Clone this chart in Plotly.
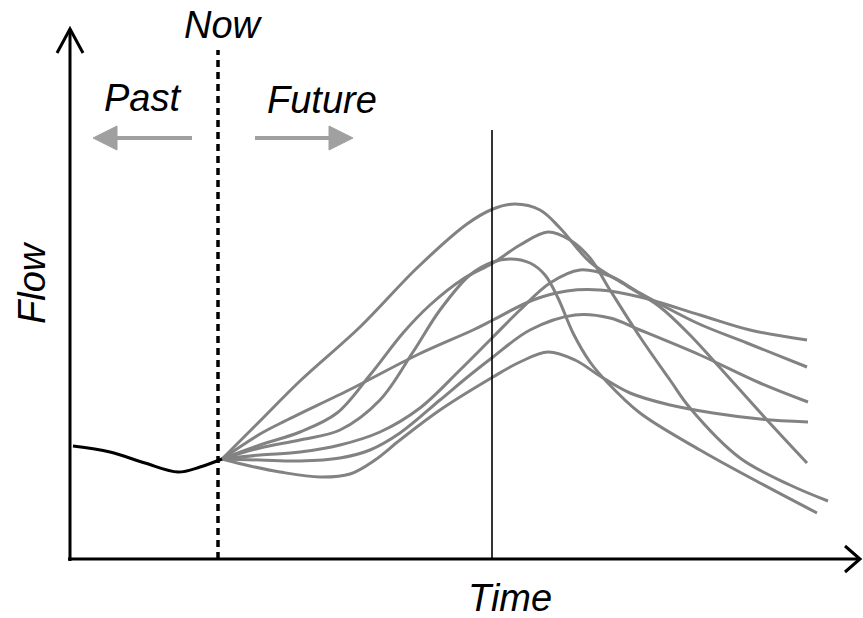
import plotly.graph_objects as go

# ---- data (time, flow) read from the schematic ----
past_time = [5, 42, 77, 110, 132, 154]
past_flow = [109, 103, 92, 83, 88, 96]

f1_time = [154, 192, 232, 292, 349, 399, 425, 447, 472, 492, 522, 559, 592, 622, 645, 699, 739]
f1_flow = [96, 134, 174, 228, 287, 331, 346, 351, 345, 327, 293, 269, 248, 220, 195, 135, 92]

f2_time = [154, 192, 232, 269, 302, 335, 362, 395, 425, 452, 480, 502, 522, 542, 572, 602, 622, 672, 722, 760]
f2_flow = [96, 110, 123, 142, 180, 222, 250, 276, 292, 310, 323, 315, 297, 265, 218, 175, 147, 97, 70, 54]

f3_time = [154, 192, 232, 272, 312, 345, 372, 402, 425, 442, 462, 477, 490, 505, 522, 539, 572, 632, 692, 749]
f3_flow = [96, 107, 115, 125, 155, 203, 245, 280, 293, 296, 292, 280, 257, 222, 193, 173, 142, 105, 72, 42]

f4_time = [154, 192, 232, 272, 312, 352, 392, 425, 452, 482, 512, 542, 572, 629, 679, 739]
f4_flow = [96, 100, 103, 110, 123, 147, 185, 218, 245, 272, 285, 279, 262, 232, 212, 188]

f5_time = [154, 192, 219, 285, 349, 405, 425, 465, 499, 532, 572, 632, 682, 739]
f5_flow = [96, 121, 135, 167, 200, 225, 235, 255, 264, 265, 258, 240, 225, 215]

f6_time = [154, 192, 232, 272, 302, 332, 372, 402, 425, 462, 507, 542, 572, 632, 692, 740]
f6_flow = [96, 95, 94, 97, 105, 122, 155, 180, 198, 225, 240, 237, 225, 200, 172, 153]

f7_time = [154, 182, 212, 252, 282, 307, 332, 372, 425, 452, 480, 507, 532, 562, 602, 645, 692, 740]
f7_flow = [96, 89, 83, 78, 81, 95, 115, 145, 178, 193, 203, 195, 179, 162, 150, 142, 136, 133]

forecasts = [(f1_time, f1_flow), (f2_time, f2_flow), (f3_time, f3_flow), (f4_time, f4_flow),
             (f5_time, f5_flow), (f6_time, f6_flow), (f7_time, f7_flow)]

labels = {"now": "Now", "past": "Past", "future": "Future", "x": "Time", "y": "Flow"}

W, H = 863, 618
GRAY = "#828282"
ARROW_GRAY = "#a0a0a0"
FONT = "Liberation Sans, Arial, sans-serif"


def px(x):
    return x / W


def py(y):
    return 1 - y / H


fig = go.Figure()

for t, q in forecasts:
    fig.add_trace(go.Scatter(x=t, y=q, mode="lines",
                             line=dict(color=GRAY, width=3, shape="spline", smoothing=1.0),
                             hoverinfo="skip", showlegend=False))

fig.add_trace(go.Scatter(x=past_time, y=past_flow, mode="lines",
                         line=dict(color="black", width=3, shape="spline", smoothing=1.0),
                         hoverinfo="skip", showlegend=False))

shapes = []
# axes
shapes.append(dict(type="line", xref="paper", yref="paper", x0=px(70), y0=py(561), x1=px(70), y1=py(29),
                   line=dict(color="black", width=3)))
shapes.append(dict(type="path", xref="paper", yref="paper",
                   path=f"M {px(57)},{py(53)} L {px(70)},{py(29)} L {px(83)},{py(53)}",
                   line=dict(color="black", width=3)))
shapes.append(dict(type="line", xref="paper", yref="paper", x0=px(68), y0=py(559), x1=px(860), y1=py(559),
                   line=dict(color="black", width=3)))
shapes.append(dict(type="path", xref="paper", yref="paper",
                   path=f"M {px(845)},{py(546)} L {px(860)},{py(559)} L {px(845)},{py(572)}",
                   line=dict(color="black", width=3)))
# "now" dotted line
shapes.append(dict(type="line", xref="paper", yref="paper", x0=px(218), y0=py(559), x1=px(218), y1=py(50),
                   line=dict(color="black", width=3.5, dash="7px,5px")))
# thin vertical line
shapes.append(dict(type="line", xref="paper", yref="paper", x0=px(492), y0=py(559), x1=px(492), y1=py(130),
                   line=dict(color="black", width=1.6)))
# gray arrows
shapes.append(dict(type="line", xref="paper", yref="paper", x0=px(192), y0=py(138), x1=px(112), y1=py(138),
                   line=dict(color=ARROW_GRAY, width=4)))
shapes.append(dict(type="path", xref="paper", yref="paper",
                   path=f"M {px(93)},{py(138)} L {px(117)},{py(126)} L {px(117)},{py(150)} Z",
                   fillcolor=ARROW_GRAY, line=dict(color=ARROW_GRAY, width=1)))
shapes.append(dict(type="line", xref="paper", yref="paper", x0=px(255), y0=py(138), x1=px(335), y1=py(138),
                   line=dict(color=ARROW_GRAY, width=4)))
shapes.append(dict(type="path", xref="paper", yref="paper",
                   path=f"M {px(353)},{py(138)} L {px(329)},{py(126)} L {px(329)},{py(150)} Z",
                   fillcolor=ARROW_GRAY, line=dict(color=ARROW_GRAY, width=1)))

tfont = dict(family=FONT, size=38, color="black", style="italic")
annotations = [
    dict(text=labels["now"], x=px(223), y=py(25), xref="paper", yref="paper", showarrow=False,
         xanchor="center", yanchor="middle", font=tfont),
    dict(text=labels["past"], x=px(142), y=py(98), xref="paper", yref="paper", showarrow=False,
         xanchor="center", yanchor="middle", font=tfont),
    dict(text=labels["future"], x=px(322), y=py(100), xref="paper", yref="paper", showarrow=False,
         xanchor="center", yanchor="middle", font=tfont),
    dict(text=labels["x"], x=px(510), y=py(598), xref="paper", yref="paper", showarrow=False,
         xanchor="center", yanchor="middle", font=tfont),
    dict(text=labels["y"], x=px(32), y=py(283), xref="paper", yref="paper", showarrow=False,
         xanchor="center", yanchor="middle", textangle=-90, font=tfont),
]

fig.update_layout(
    width=W, height=H,
    margin=dict(l=0, r=0, t=0, b=0),
    paper_bgcolor="white", plot_bgcolor="white",
    xaxis=dict(range=[-68, 795], visible=False, fixedrange=True),
    yaxis=dict(range=[-63, 555], visible=False, fixedrange=True),
    shapes=shapes, annotations=annotations, showlegend=False,
)

fig.write_html("out.html", config={"displayModeBar": False},
               post_script="document.body.style.margin='0px';document.body.style.overflow='hidden';")
